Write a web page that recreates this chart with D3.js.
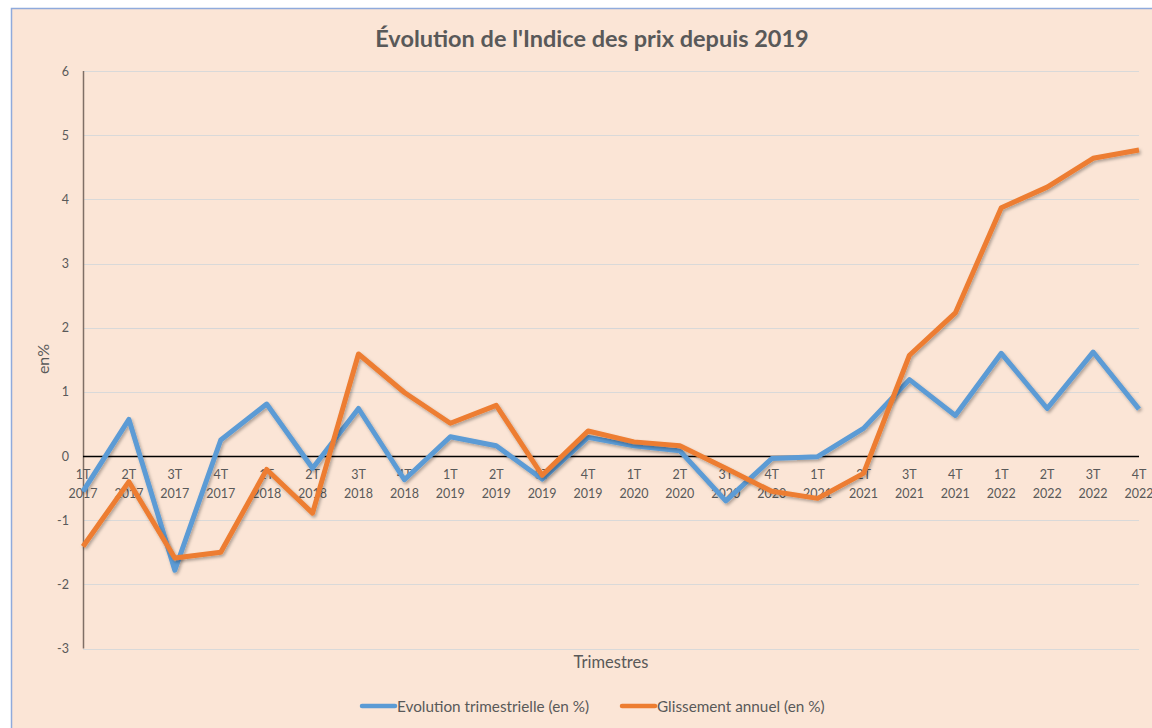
<!DOCTYPE html>
<html>
<head>
<meta charset="utf-8">
<script src="https://cdn.jsdelivr.net/npm/d3@7"></script>
<style>
  body { margin: 0; background: #fff; }
  svg { display: block; font-family: Lato, "Open Sans", sans-serif; }
</style>
</head>
<body>
<svg id="chart"></svg>
<script>
const width = 1152;
const height = 728;

// quarters shown on the x axis
const quarters = ["1T", "2T", "3T", "4T", "1T", "2T", "3T", "4T", "1T", "2T", "3T", "4T",
  "1T", "2T", "3T", "4T", "1T", "2T", "3T", "4T", "1T", "2T", "3T", "4T"];
const years = ["2017", "2017", "2017", "2017", "2018", "2018", "2018", "2018",
  "2019", "2019", "2019", "2019", "2020", "2020", "2020", "2020",
  "2021", "2021", "2021", "2021", "2022", "2022", "2022", "2022"];

const trimestrielle = [-0.55, 0.57, -1.78, 0.25, 0.81, -0.19, 0.74, -0.37, 0.30, 0.16, -0.36, 0.29,
  0.16, 0.08, -0.70, -0.04, -0.01, 0.43, 1.19, 0.63, 1.60, 0.74, 1.62, 0.73];
const annuel = [-1.41, -0.40, -1.59, -1.50, -0.21, -0.89, 1.59, 0.99, 0.51, 0.79, -0.30, 0.39,
  0.22, 0.16, -0.19, -0.55, -0.66, -0.27, 1.57, 2.23, 3.87, 4.19, 4.64, 4.77];

const yTicks = [-3, -2, -1, 0, 1, 2, 3, 4, 5, 6];

const series = [
  { name: "Evolution trimestrielle (en %)", values: trimestrielle, color: "#5B9BD5" },
  { name: "Glissement annuel (en %)", values: annuel, color: "#ED7D31" }
];

const svg = d3.select("#chart").attr("width", width).attr("height", height);

const defs = svg.append("defs");
const shadow = defs.append("filter").attr("id", "shadow")
  .attr("x", "-5%").attr("y", "-5%").attr("width", "110%").attr("height", "110%");
shadow.append("feDropShadow")
  .attr("dx", 1.5).attr("dy", 2).attr("stdDeviation", 1.5)
  .attr("flood-color", "#000").attr("flood-opacity", 0.3);

// chart area
svg.append("rect")
  .attr("x", 11.5).attr("y", 8.5)
  .attr("width", width).attr("height", height)
  .attr("fill", "#FBE5D6")
  .attr("stroke", "#8FAADC").attr("stroke-width", 1.5);

const idx = d3.range(quarters.length);
const x = d3.scalePoint().domain(idx).range([83, 1139]);
const y = d3.scaleLinear().domain([-3, 6]).range([648.5, 71]);

// gridlines
svg.append("g")
  .selectAll("line")
  .data(yTicks.filter((d) => d !== 0))
  .enter()
  .append("line")
  .attr("x1", 83).attr("x2", 1139)
  .attr("y1", (d) => Math.round(y(d)) + 0.5)
  .attr("y2", (d) => Math.round(y(d)) + 0.5)
  .attr("stroke", "#D9D9D9").attr("stroke-width", 1);

// y tick labels
svg.append("g")
  .selectAll("text")
  .data(yTicks)
  .enter()
  .append("text")
  .attr("x", 69)
  .attr("y", (d) => y(d) + 4.5)
  .attr("text-anchor", "end")
  .attr("font-size", 12.5)
  .attr("fill", "#595959")
  .text((d) => d);

// y axis line
svg.append("line")
  .attr("x1", 83.5).attr("x2", 83.5)
  .attr("y1", y(6)).attr("y2", y(-3))
  .attr("stroke", "#7F6F66").attr("stroke-width", 1.5);

// zero line
svg.append("line")
  .attr("x1", 83).attr("x2", 1139)
  .attr("y1", Math.round(y(0)) + 0.5).attr("y2", Math.round(y(0)) + 0.5)
  .attr("stroke", "#000").attr("stroke-width", 1.5);

// x tick labels
const xl = svg.append("g")
  .selectAll("text")
  .data(idx)
  .enter()
  .append("text")
  .attr("text-anchor", "middle")
  .attr("font-size", 12.5)
  .attr("fill", "#595959");
xl.append("tspan").attr("x", (d) => x(d)).attr("y", 478.5).text((d) => quarters[d]);
xl.append("tspan").attr("x", (d) => x(d)).attr("y", 497.5).text((d) => years[d]);

// lines
const line = d3.line().x((d, i) => x(i)).y((d) => y(d));
svg.append("g")
  .selectAll("path")
  .data(series)
  .enter()
  .append("path")
  .attr("d", (d) => line(d.values))
  .attr("fill", "none")
  .attr("stroke", (d) => d.color)
  .attr("stroke-width", 5)
  .attr("stroke-linejoin", "round")
  .attr("filter", "url(#shadow)");

// title
svg.append("text")
  .attr("x", 592).attr("y", 47)
  .attr("text-anchor", "middle")
  .attr("font-size", 23.5)
  .attr("font-weight", "bold")
  .attr("fill", "#595959")
  .text("Évolution de l'Indice des prix depuis 2019");

// axis titles
svg.append("text")
  .attr("transform", "translate(49,359) rotate(-90)")
  .attr("text-anchor", "middle")
  .attr("font-size", 16)
  .attr("fill", "#595959")
  .text("en%");

svg.append("text")
  .attr("x", 611).attr("y", 668)
  .attr("text-anchor", "middle")
  .attr("font-size", 16.5)
  .attr("fill", "#595959")
  .text("Trimestres");

// legend
const legendX = [362, 622];
const lg = svg.append("g")
  .selectAll("g")
  .data(series)
  .enter()
  .append("g")
  .attr("transform", (d, i) => `translate(${legendX[i]},706)`);
lg.append("line")
  .attr("x1", 0).attr("x2", 33)
  .attr("stroke", (d) => d.color).attr("stroke-width", 4.5)
  .attr("stroke-linecap", "round");
lg.append("text")
  .attr("x", 35).attr("y", 5.5)
  .attr("font-size", 15.3)
  .attr("fill", "#595959")
  .text((d) => d.name);
</script>
</body>
</html>
